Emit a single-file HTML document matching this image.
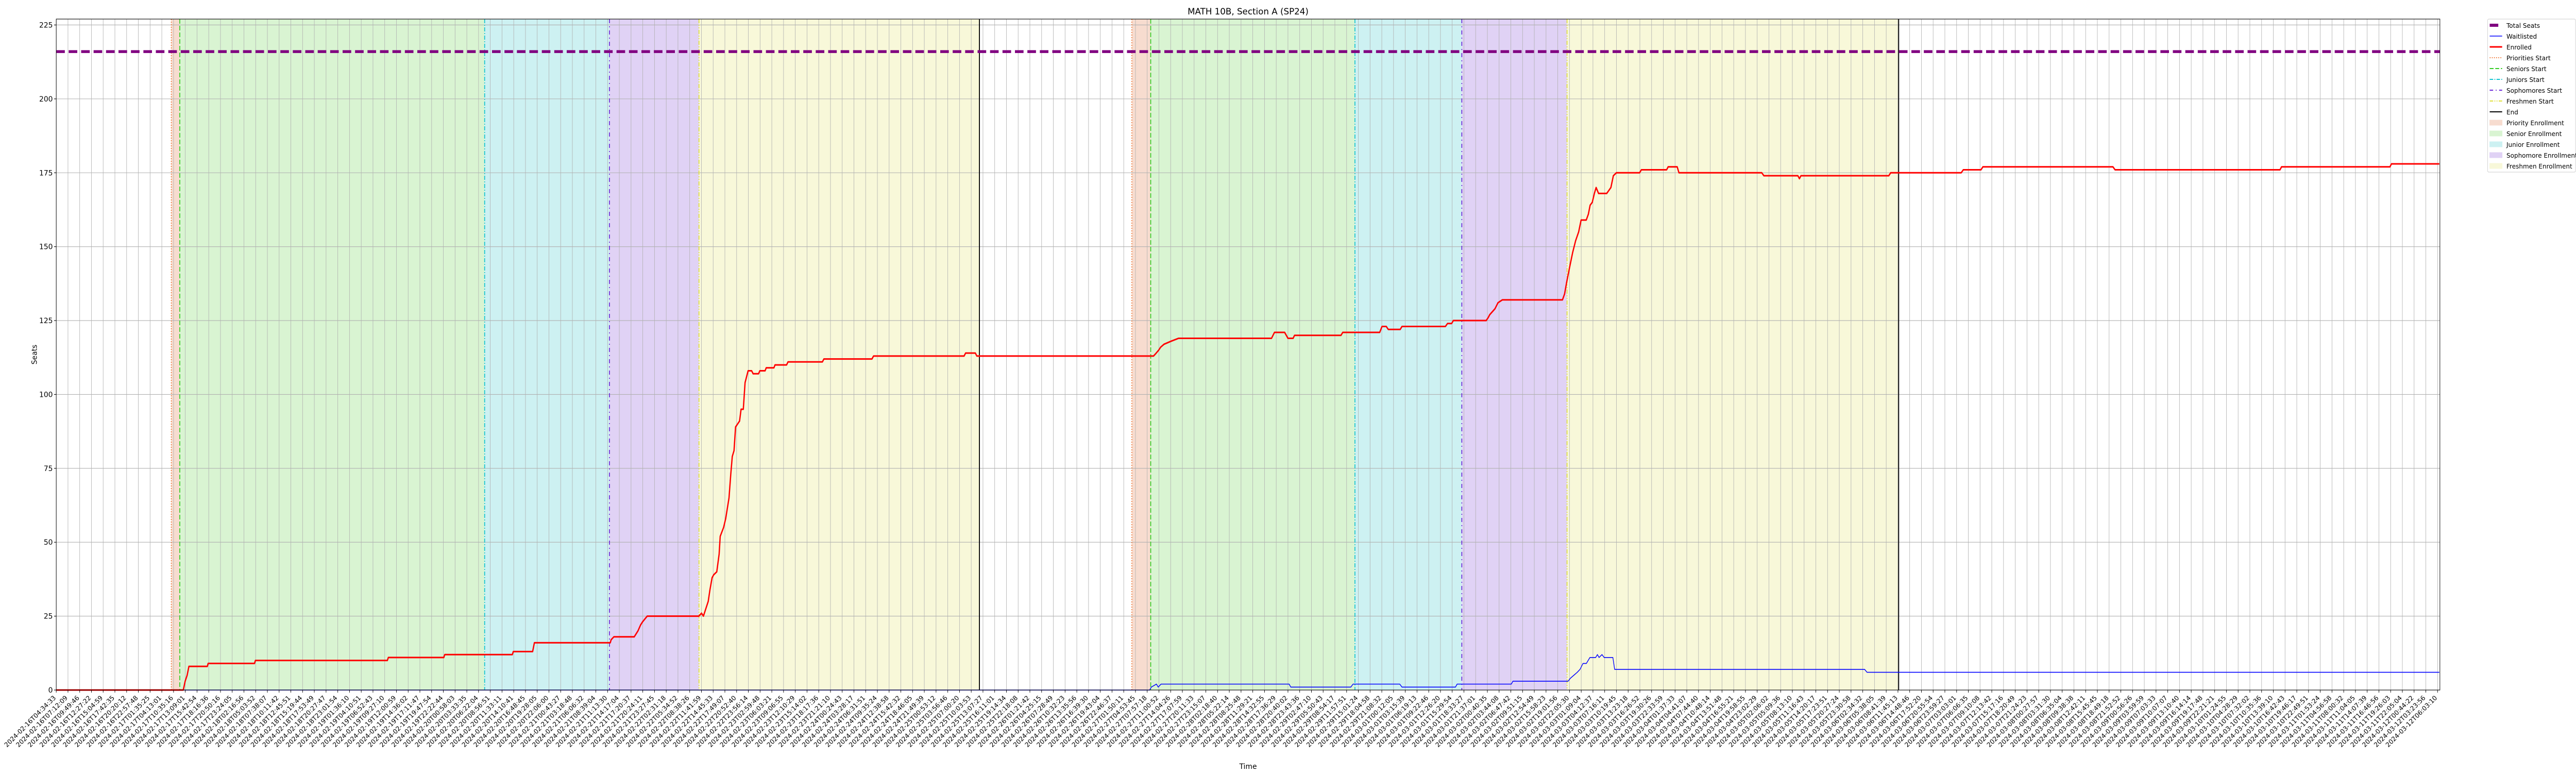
<!DOCTYPE html>
<html><head><meta charset="utf-8"><title>MATH 10B, Section A (SP24)</title>
<style>
html,body{margin:0;padding:0;background:#fff;width:100vw;height:100vh;overflow:hidden;}
svg{display:block;position:absolute;left:0;top:0;width:100vw;height:100vh;font-family:"DejaVu Sans","Liberation Sans",sans-serif;overflow:hidden;}
</style></head>
<body>
<svg id="chart" viewBox="0 0 6000 1500" preserveAspectRatio="none" xmlns="http://www.w3.org/2000/svg">
<g id="plot"></g>
<g id="labels"></g>
<g id="legend"></g>
</svg>
<script>
// ---- data (x in tick-index units, y in seats) ----
const totalSeats = 216;
const enrolledX = [0,10.83,10.99,11.16,11.31,12.88,12.95,16.90,16.98,28.23,28.31,33.04,33.12,38.88,38.96,40.61,40.76,47.23,47.30,47.53,49.27,49.59,49.81,49.97,50.38,54.78,55.01,55.17,55.58,55.73,55.91,56.05,56.31,56.51,56.60,56.89,57.07,57.35,57.50,57.63,57.78,57.91,58.25,58.38,58.57,58.72,58.98,59.28,59.41,59.87,59.98,60.43,60.52,61.18,61.27,62.26,62.38,65.31,65.44,69.54,69.67,77.39,77.52,78.35,78.48,93.54,93.77,93.98,94.15,94.44,95.03,95.67,103.60,103.85,104.72,105.00,105.44,105.56,109.52,109.67,112.82,113.02,113.38,113.55,114.57,114.72,118.42,118.60,118.95,119.10,121.90,122.07,122.20,122.65,122.90,123.27,128.40,128.58,128.76,129.01,129.27,129.52,129.78,129.99,130.43,130.61,130.76,130.94,131.12,131.27,131.48,132.17,132.35,132.53,132.74,133.00,134.97,135.13,137.28,137.41,138.18,138.33,145.39,145.57,148.47,148.60,148.73,156.22,156.38,162.39,162.57,164.08,164.24,175.33,175.51,189.57,189.70,198.94,199.07,203.15];
const enrolledY = [0,0,3,5,8,8,9,9,10,10,11,11,12,12,13,13,16,16,17,18,18,20,22,23,25,25,26,25,30,34,38,39,40,46,52,55,58,65,73,79,81,89,91,95,95,104,108,108,107,107,108,108,109,109,110,110,111,111,112,112,113,113,114,114,113,113,114,115,116,117,118,119,119,121,121,119,119,120,120,121,121,123,123,122,122,123,123,124,124,125,125,126,127,129,131,132,132,134,138,143,148,152,155,159,159,161,164,165,168,170,168,168,169,170,174,175,175,176,176,177,177,175,175,174,174,173,174,174,175,175,176,176,177,177,176,176,177,177,178,178];
const waitX = [0,93.21,93.35,93.79,93.94,94.18,105.10,105.24,110.36,110.55,114.53,114.72,119.28,119.42,124.04,124.18,128.88,129.08,129.37,129.66,129.90,130.15,130.44,130.74,131.23,131.38,131.52,131.77,131.96,132.70,132.85,154.16,154.36,203.15];
const waitY = [0,0,1,2,1,2,2,1,1,2,2,1,1,2,2,3,3,4,5,6,7,9,9,11,11,12,11,12,11,11,7,7,6,6];
const phaseNames = ["priority","senior","junior","sophomore","freshmen"];
const phaseStarts1 = [9.81,10.53,36.52,47.16,54.79];
const phaseEnd1 = 78.70;
const phaseStarts2 = [91.69,93.30,110.71,119.82,128.79];
const phaseEnd2 = 157.06;
const yTicks = [0,25,50,75,100,125,150,175,200,225];
const labelAnchorIdx = [0,9,10,11,12,13,14,15,16,17,18,19,20,21,22,23,24,25,26,27,28,29,30,31,32,33,34,35,36,37,38,39,40,41,42,43,44,45,46,47,197,198,199,200,201,202,203];
const labelAnchorTime = ["2024-02-16T04:34:33","2024-02-17T04:13:01","2024-02-17T10:35:16","2024-02-17T13:09:01","2024-02-17T15:42:54","2024-02-17T18:16:36","2024-02-17T20:50:16","2024-02-17T23:24:05","2024-02-18T02:16:56","2024-02-18T05:03:52","2024-02-18T07:38:07","2024-02-18T10:11:42","2024-02-18T12:45:51","2024-02-18T15:19:44","2024-02-18T17:53:49","2024-02-18T20:27:47","2024-02-18T23:01:54","2024-02-19T01:36:10","2024-02-19T04:10:51","2024-02-19T06:52:43","2024-02-19T09:27:10","2024-02-19T12:00:59","2024-02-19T14:36:02","2024-02-19T17:11:47","2024-02-19T19:47:54","2024-02-19T22:22:44","2024-02-20T00:58:03","2024-02-20T03:33:35","2024-02-20T06:22:04","2024-02-20T08:56:51","2024-02-20T11:33:11","2024-02-20T14:10:41","2024-02-20T16:48:45","2024-02-20T19:28:05","2024-02-20T22:06:00","2024-02-21T00:43:27","2024-02-21T03:18:48","2024-02-21T06:06:32","2024-02-21T08:39:04","2024-02-21T11:13:30","2024-03-11T14:07:39","2024-03-11T16:46:56","2024-03-11T19:26:03","2024-03-11T22:05:04","2024-03-12T00:44:22","2024-03-12T03:23:56","2024-03-12T06:03:10"];

// ---- geometry ----
const L=131,R=5683,T=37,B=1339;
const XMIN=0,XMAX=203.2,YMIN=0,YMAX=227;
const NS="http://www.w3.org/2000/svg";
const vw=window.innerWidth||6000, vh=window.innerHeight||1500;
let K=(vw/6000)/(vh/1500); if(!isFinite(K)||K<=0)K=1;
const INV=(1/K).toFixed(5);
function sx(v){return L+(v-XMIN)/(XMAX-XMIN)*(R-L);}
function sy(v){return B-(v-YMIN)/(YMAX-YMIN)*(B-T);}
function mk(tag,attrs,parent){const e=document.createElementNS(NS,tag);for(const k in attrs)e.setAttribute(k,attrs[k]);parent.appendChild(e);return e;}
function txt(parent,x,y,str,size,anchor,rot){
  let tr='translate('+x.toFixed(1)+','+y.toFixed(1)+') scale('+INV+',1)';
  if(rot)tr+=' rotate('+rot+')';
  const t=mk('text',{transform:tr,'font-size':size,'text-anchor':anchor||'start'},parent);
  t.textContent=str;
  return t;
}
const plot=document.getElementById('plot');
const labels=document.getElementById('labels');

function parseT(s){return Date.UTC(+s.slice(0,4),+s.slice(5,7)-1,+s.slice(8,10),+s.slice(11,13),+s.slice(14,16),+s.slice(17,19));}
function fmtT(ms){const d=new Date(ms);const p=n=>String(n).padStart(2,'0');return d.getUTCFullYear()+'-'+p(d.getUTCMonth()+1)+'-'+p(d.getUTCDate())+'T'+p(d.getUTCHours())+':'+p(d.getUTCMinutes())+':'+p(d.getUTCSeconds());}
const tickLabels=[];
for(let i=0;i<=203;i++){
  let j=0;while(j<labelAnchorIdx.length-2&&labelAnchorIdx[j+1]<=i)j++;
  const i0=labelAnchorIdx[j],i1=labelAnchorIdx[j+1];
  const t0=parseT(labelAnchorTime[j]),t1=parseT(labelAnchorTime[j+1]);
  tickLabels.push(fmtT(Math.round((t0+(t1-t0)*(i-i0)/(i1-i0))/1000)*1000));
}

const bandFill=["#f7dccf","#d9f4d2","#cdf1f2","#e0d2f5","#f8f8d9"];
const lineCol=["#f07a3a","#33cc22","#11c4d0","#6a28d8","#e0e03a"];
const lineDash=["2,3","9,4","8,3,2,3","8,6,2,6","8,3,2,3,2,3"];
[[phaseStarts1,phaseEnd1],[phaseStarts2,phaseEnd2]].forEach((ph,pi)=>{
  const st=ph[0],en=ph[1];
  for(let k=0;k<5;k++){
    const a=st[k],b=k<4?st[k+1]:en;
    const r=mk('rect',{x:sx(a),y:T,width:sx(b)-sx(a),height:B-T,fill:bandFill[k]},plot);
    
    
  }
});
for(let i=0;i<=203;i++){
  const g=mk('line',{x1:sx(i),x2:sx(i),y1:T,y2:B,stroke:'#b0b0b0','stroke-width':1},plot);
  
  
}
yTicks.forEach(v=>{
  const g=mk('line',{x1:L,x2:R,y1:sy(v),y2:sy(v),stroke:'#b0b0b0','stroke-width':1.1},plot);
  
  
});
[phaseStarts1,phaseStarts2].forEach((st,pi)=>{
  for(let k=0;k<5;k++){
    const l=mk('line',{x1:sx(st[k]),x2:sx(st[k]),y1:T,y2:B,stroke:lineCol[k],'stroke-width':2,'stroke-dasharray':lineDash[k]},plot);
    
    
  }
});
[phaseEnd1,phaseEnd2].forEach((v,i)=>{
  const l=mk('line',{x1:sx(v),x2:sx(v),y1:T,y2:B,stroke:'#000','stroke-width':2.2},plot);
  
  
});
const ts=mk('line',{x1:L,x2:R,y1:sy(totalSeats),y2:sy(totalSeats),stroke:'#800080','stroke-width':5.5,'stroke-dasharray':'20,9'},plot);


function pts(xs,ys){return xs.map((x,i)=>sx(x).toFixed(1)+','+sy(ys[i]).toFixed(1)).join(' ');}
const wl=mk('polyline',{points:pts(waitX,waitY),fill:'none',stroke:'#0000ff','stroke-width':1.6,'stroke-linejoin':'round'},plot);


const en=mk('polyline',{points:pts(enrolledX,enrolledY),fill:'none',stroke:'#ff0000','stroke-width':3,'stroke-linejoin':'round'},plot);


const sp=mk('rect',{x:L,y:T,width:R-L,height:B-T,fill:'none',stroke:'#000','stroke-width':1.1},plot);



const tt=txt(labels,2907,28,'MATH 10B, Section A (SP24)',16.7,'middle');


const yt=txt(labels,86,688,'Seats',13.9,'middle',-90);


const xt=txt(labels,2907,1492,'Time',13.9,'middle');



yTicks.forEach(v=>{
  const t=mk('line',{x1:L-5,x2:L,y1:sy(v),y2:sy(v),stroke:'#000','stroke-width':1.1},plot);
  
  
  const tx=txt(labels,L-8,sy(v)+5,String(v),13.9,'end');
  
  
});
tickLabels.forEach((lab,i)=>{
  const x=sx(i);
  const t=mk('line',{x1:x,x2:x,y1:B,y2:B+5,stroke:'#000','stroke-width':1.1},plot);
  
  
  const tx=txt(labels,x,B+16,lab,12.4,'end',-45);
  
  
});
const lg=document.getElementById('legend');
const box=mk('rect',{x:5794,y:37,width:205,height:297,rx:3,fill:'#fff',stroke:'#cccccc','stroke-width':1},lg);


const entries=[
 ['Total Seats','line','#800080',6,''],['Waitlisted','line','#0000ff',1.6,''],['Enrolled','line','#ff0000',3,''],
 ['Priorities Start','line',lineCol[0],2,lineDash[0]],['Seniors Start','line',lineCol[1],2,lineDash[1]],
 ['Juniors Start','line',lineCol[2],2,lineDash[2]],['Sophomores Start','line',lineCol[3],2,lineDash[3]],
 ['Freshmen Start','line',lineCol[4],2,lineDash[4]],['End','line','#000',2,''],
 ['Priority Enrollment','patch',bandFill[0]],['Senior Enrollment','patch',bandFill[1]],['Junior Enrollment','patch',bandFill[2]],
 ['Sophomore Enrollment','patch',bandFill[3]],['Freshmen Enrollment','patch',bandFill[4]]];
entries.forEach((e,i)=>{
  const cy=49+i*21;
  const g=mk('g',{},lg);
  
  
  if(e[1]==='line'){
    const a={x1:5799,x2:5828,y1:cy,y2:cy,stroke:e[2],'stroke-width':e[3]};
    if(e[4])a['stroke-dasharray']=e[4];
    if(i===0){a.x2=5819;}
    mk('line',a,g);
  } else {
    mk('rect',{x:5799,y:cy-5,width:29,height:10,fill:e[2],stroke:e[2]},g);
  }
  txt(g,5838,cy+5,e[0],12,'start');
});
</script>
</body></html>
